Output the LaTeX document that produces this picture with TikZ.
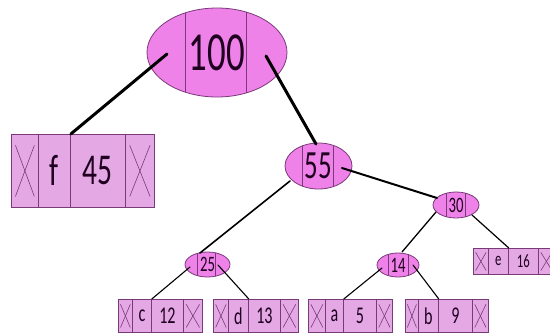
\documentclass[tikz,border=0pt]{standalone}
\usepackage{fontspec}
\setmainfont{Carlito}
\newfontfamily\nfont[FakeStretch=0.67]{Carlito}
\usetikzlibrary{shapes.geometric,calc}
\definecolor{ellfill}{HTML}{EE82E8}
\definecolor{boxfill}{HTML}{E4A8E4}
\definecolor{edgec}{HTML}{7A3A7A}
\definecolor{txt}{HTML}{200020}
\tikzset{
 ell/.style={ellipse, draw=edgec, line width=0.8pt, fill=ellfill, inner sep=0pt, text=txt},
 divs/.style 2 args={path picture={
   \draw[edgec, line width=0.8pt] ($(path picture bounding box.center)+(#1,-100)$) -- ++(0,200);
   \draw[edgec, line width=0.8pt] ($(path picture bounding box.center)+(#2,-100)$) -- ++(0,200);}},
 cell/.style={rectangle, draw=edgec, line width=0.8pt, fill=boxfill, inner sep=0pt, text=txt, anchor=north west},
 xcell/.style={cell, path picture={
   \draw[edgec, line width=0.6pt] ($(path picture bounding box.north west)!0.15!(path picture bounding box.south east)$) -- ($(path picture bounding box.north west)!0.85!(path picture bounding box.south east)$);
   \draw[edgec, line width=0.6pt] ($(path picture bounding box.north east)!0.15!(path picture bounding box.south west)$) -- ($(path picture bounding box.north east)!0.85!(path picture bounding box.south west)$);}},
 bigleaf/.style={minimum height=73pt, font=\fontsize{44pt}{44pt}\nfont},
 smleaf/.style={minimum height=33pt, font=\fontsize{24pt}{24pt}\nfont},
 eleaf/.style={minimum height=26pt, font=\fontsize{19pt}{19pt}\nfont},
 link/.style={draw=black, line cap=round},
}
\begin{document}
\begin{tikzpicture}[x=1pt, y=-1pt]
\clip (0,0) rectangle (550,335);
\fill[white] (0,0) rectangle (550,335);
% ellipses
\node[ell, divs={-31.5pt}{29pt}, minimum width=140pt, minimum height=89pt, font=\fontsize{55pt}{55pt}\nfont] (root) at (217,52.5) {100};
\node[ell, divs={-16.5pt}{14.5pt}, minimum width=67pt, minimum height=46pt, font=\fontsize{40pt}{40pt}\nfont] (n55) at (318.5,166) {55};
\node[ell, divs={-10pt}{9pt}, minimum width=46pt, minimum height=26pt, font=\fontsize{22pt}{22pt}\nfont] (n30) at (456,205) {30};
\node[ell, divs={-10.5pt}{7.5pt}, minimum width=45pt, minimum height=25pt, font=\fontsize{22pt}{22pt}\nfont] (n25) at (207.5,264.5) {25};
\node[ell, divs={-10pt}{10pt}, minimum width=42pt, minimum height=24pt, font=\fontsize{22pt}{22pt}\nfont] (n14) at (398,265) {14};
% leaf f
\node[xcell, bigleaf, minimum width=27pt] (fA) at (11,134) {};
\node[cell, bigleaf, minimum width=32pt] (fL) at (38,134) {f};
\node[cell, bigleaf, minimum width=55pt] (fV) at (70,134) {45};
\node[xcell, bigleaf, minimum width=29pt] (fB) at (125,134) {};
% leaf c
\node[xcell, smleaf, minimum width=14pt] (cA) at (118,299) {};
\node[cell, smleaf, minimum width=19pt] (cL) at (132,299) {c};
\node[cell, smleaf, minimum width=32pt] (cV) at (151,299) {12};
\node[xcell, smleaf, minimum width=19pt] (cB) at (183,299) {};
% leaf d
\node[xcell, smleaf, minimum width=15pt] (dA) at (213,299) {};
\node[cell, smleaf, minimum width=20pt] (dL) at (228,299) {d};
\node[cell, smleaf, minimum width=32pt] (dV) at (248,299) {13};
\node[xcell, smleaf, minimum width=18pt] (dB) at (280,299) {};
% leaf a
\node[xcell, smleaf, minimum width=17pt] (aA) at (308,299) {};
\node[cell, smleaf, minimum width=18pt] (aL) at (325,299) {a};
\node[cell, smleaf, minimum width=33pt] (aV) at (343,299) {5};
\node[xcell, smleaf, minimum width=16pt] (aB) at (376,299) {};
% leaf b
\node[xcell, smleaf, minimum width=13pt] (bA) at (405,299) {};
\node[cell, smleaf, minimum width=20pt] (bL) at (418,299) {b};
\node[cell, smleaf, minimum width=34pt] (bV) at (438,299) {9};
\node[xcell, smleaf, minimum width=16pt] (bB) at (472,299) {};
% leaf e
\node[xcell, eleaf, minimum width=15pt] (eA) at (473,248) {};
\node[cell, eleaf, minimum width=20pt] (eL) at (488,248) {e};
\node[cell, eleaf, minimum width=30pt] (eV) at (508,248) {16};
\node[xcell, eleaf, minimum width=16pt] (eB) at (538,248) {};
% connectors
\draw[link, line width=3pt] ($(root)+(-50,1.5)$) -- (fL.north east);
\draw[link, line width=3pt] ($(root)+(49,3.5)$) -- ($(n55)+(-2.5,-22)$);
\draw[link, line width=2pt] ($(n55)+(23.5,2)$) -- ($(n30)+(-19,-7)$);
\draw[link, line width=1.6pt] ($(n55)+(-28.5,15)$) -- ($(n25)+(-7.5,-11.5)$);
\draw[link, line width=1.3pt] ($(n30)+(-20,7)$) -- ($(n14)+(4,-13)$);
\draw[link, line width=1.2pt] ($(n30)+(16,10)$) -- (eL.north east);
\draw[link, line width=1.1pt] ($(n25)+(-17.5,2.5)$) -- (cL.north east);
\draw[link, line width=1.1pt] ($(n25)+(10.5,0.5)$) -- (dL.north east);
\draw[link, line width=1.1pt] ($(n14)+(-16,3)$) -- (aL.north east);
\draw[link, line width=1.1pt] ($(n14)+(15,0)$) -- (bL.north east);
\end{tikzpicture}
\end{document}
